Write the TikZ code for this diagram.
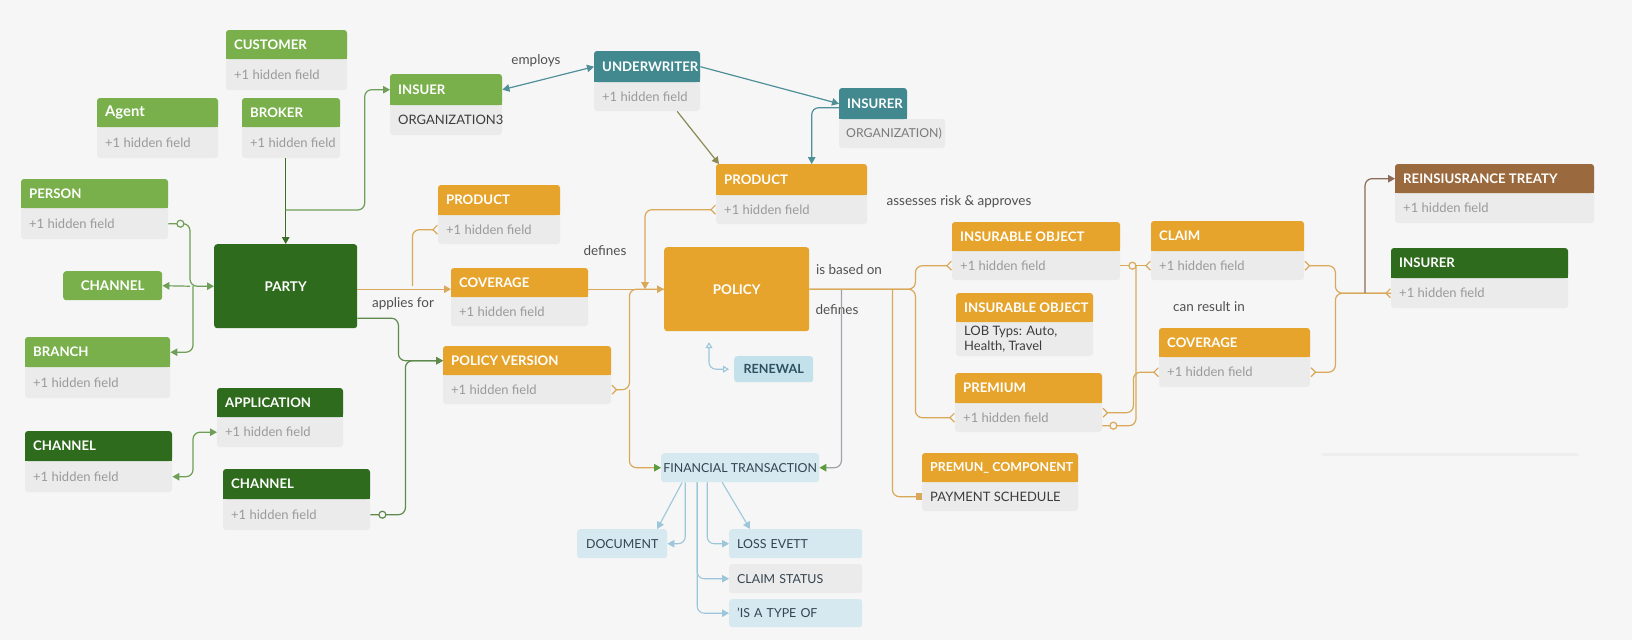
\documentclass[tikz,border=0pt]{standalone}
\usepackage{fontspec}
\setmainfont{Lato}
\usetikzlibrary{arrows.meta}

% palette
\definecolor{bg}{HTML}{F6F6F6}
\definecolor{boxgray}{HTML}{EBEBEB}
\definecolor{divgray}{HTML}{EEEEEE}
\definecolor{lgreen}{HTML}{79B04B}
\definecolor{dgreen}{HTML}{2F6B1D}
\definecolor{orng}{HTML}{E6A42C}
\definecolor{tealhd}{HTML}{41888F}
\definecolor{brownhd}{HTML}{9A6A3E}
\definecolor{lblue}{HTML}{D6E9F1}
\definecolor{renewblue}{HTML}{C2E1EA}
\definecolor{renewtxt}{HTML}{2E5060}
\definecolor{hidtxt}{HTML}{9A9A9A}
\definecolor{darktxt}{HTML}{3C3C3C}
\definecolor{orgtxt}{HTML}{7A7A7A}
\definecolor{bluetxt}{HTML}{34444F}
\definecolor{labeltxt}{HTML}{505050}
\definecolor{lgline}{HTML}{6E9F58}
\definecolor{dgline}{HTML}{3A6E28}
\definecolor{dgline2}{HTML}{5E8A4E}
\definecolor{oline}{HTML}{D9A85A}
\definecolor{tline}{HTML}{4E8F98}
\definecolor{grayline}{HTML}{9EA4AA}
\definecolor{brline}{HTML}{8C6C58}
\definecolor{olline}{HTML}{8A8A55}
\definecolor{lbline}{HTML}{9CC6D9}
\definecolor{arrgreen}{HTML}{5B9B3B}

\tikzset{
  Arw/.tip={Triangle[length=7pt,width=7.5pt]},
  Garw/.tip={Triangle[length=7pt,width=7.5pt,color=arrgreen]},
  Crw/.tip={Straight Barb[reversed,length=4.5pt,width=9pt]},
  Sqr/.tip={Square[length=6pt,width=7pt]},
  Oarw/.tip={Triangle[open,length=6pt,width=7pt]},
  bodyextra/.style={},
}

% entity: name, x, y, width, header height, body height, colour, title, body
\newcommand\erbox[9]{%
  \fill[boxgray, rounded corners=3pt] (#2,#3) rectangle ++(#4,#5+#6);
  \fill[#7, rounded corners=3pt] (#2,#3) rectangle ++(#4,#5);
  \fill[#7] (#2,#3+#5/2) rectangle ++(#4,#5/2);
  \node[anchorbox, minimum width=#4pt, minimum height=#5pt] (#1) at (#2,#3) {};
  \node[anchorbox, minimum width=#4pt, minimum height=#6pt] (#1-b) at (#2,#3+#5) {};
  \node[headtext] (#1-t) at ([xshift=8pt]#1.west) {#8};
  \node[bodytext, bodyextra] (#1-bt) at ([xshift=8pt]#1-b.west) {#9};
}

\begin{document}
\begin{tikzpicture}[x=1pt, y=-1pt,
  anchorbox/.style={anchor=north west, inner sep=0pt, draw=none, rectangle},
  headtext/.style={anchor=west, inner sep=0pt, text=white, font=\bfseries\fontsize{13.2}{15}\selectfont},
  bodytext/.style={anchor=west, inner sep=0pt, text=hidtxt, align=left, font=\fontsize{13}{15}\selectfont},
  plainbox/.style={anchorbox, rounded corners=3pt},
  bigtext/.style={text=white, font=\bfseries\fontsize{13.4}{15}\selectfont},
  bluebox/.style={plainbox, fill=lblue, text=bluetxt, font=\fontsize{12.4}{15}\selectfont},
  leftbox/.style={inner xsep=8pt, text width=117pt, align=left, minimum width=133pt},
  lbl/.style={inner sep=0pt, text=labeltxt, font=\fontsize{13.5}{16}\selectfont},
  conn/.style={line width=1.2pt, rounded corners=7pt},
  lgc/.style={conn, draw=lgline},
  dgc/.style={conn, draw=dgline},
  dgc2/.style={conn, draw=dgline2},
  oc/.style={conn, draw=oline},
  tc/.style={conn, draw=tline},
  gc/.style={conn, draw=grayline},
  bc/.style={conn, draw=brline},
  olc/.style={conn, draw=olline},
  lbc/.style={conn, draw=lbline, line width=1.1pt},
  ring/.style={line width=1.2pt, fill=bg},
]
\fill[bg] (0,0) rectangle (1632,640);
\useasboundingbox (0,0) rectangle (1632,640);

% faint divider at lower right
\draw[line width=3pt, color=divgray] (1322,454) -- (1578,454);

% ---------- party side ----------
\erbox{customer}{226}{30}{121}{29}{31}{lgreen}{CUSTOMER}{+1 hidden field}
\erbox{agent}{97}{98}{121}{29}{31}{lgreen}{\fontsize{14.8}{16}\selectfont Agent}{+1 hidden field}
\erbox{broker}{242}{98}{98}{29}{31}{lgreen}{BROKER}{+1 hidden field}
\erbox{person}{21}{179}{147}{29}{31}{lgreen}{PERSON}{+1 hidden field}
\erbox{branch}{25}{337}{145}{30}{31}{lgreen}{BRANCH}{+1 hidden field}
\erbox{application}{217}{388}{126}{29}{30}{dgreen}{APPLICATION}{+1 hidden field}
\erbox{channelb}{25}{431}{147}{30}{31}{dgreen}{CHANNEL}{+1 hidden field}
\erbox{channelc}{223}{469}{147}{30}{31}{dgreen}{CHANNEL}{+1 hidden field}
\node[plainbox, fill=lgreen, bigtext, minimum width=99pt, minimum height=29pt] (channela) at (63,271) {CHANNEL};
\node[plainbox, fill=dgreen, bigtext, minimum width=143pt, minimum height=84pt] (party) at (214,244) {PARTY};

% ---------- organisations ----------
\begin{scope}[bodyextra/.style={text=darktxt}]
\erbox{insuer}{390}{74}{112}{31}{30}{lgreen}{INSUER}{ORGANIZATION3}
\end{scope}
\erbox{underwriter}{594}{51}{106}{31}{29}{tealhd}{UNDERWRITER}{+1 hidden field}
\fill[boxgray, rounded corners=3pt] (839,119) rectangle (945,148);
\fill[tealhd, rounded corners=3pt] (839,88) rectangle (907,119);
\fill[tealhd] (839,104) rectangle (907,119);
\node[anchorbox, minimum width=68pt, minimum height=31pt] (insurera) at (839,88) {};
\node[anchorbox, minimum width=106pt, minimum height=29pt] (insurera-b) at (839,119) {};
\node[headtext] (insurera-t) at ([xshift=8pt]insurera.west) {INSURER};
\node[bodytext, text=orgtxt, font=\fontsize{12.3}{15}\selectfont] (insurera-bt) at ([xshift=7pt]insurera-b.west) {ORGANIZATION)};

% ---------- products and policy ----------
\erbox{productt}{716}{164}{151}{31}{29}{orng}{PRODUCT}{+1 hidden field}
\erbox{productl}{438}{185}{122}{30}{29}{orng}{PRODUCT}{+1 hidden field}
\erbox{coveragel}{451}{268}{137}{29}{29}{orng}{COVERAGE}{+1 hidden field}
\erbox{policyversion}{443}{346}{168}{29}{29}{orng}{POLICY VERSION}{+1 hidden field}
\node[plainbox, fill=orng, bigtext, minimum width=145pt, minimum height=84pt] (policy) at (664,247) {POLICY};
\node[plainbox, fill=renewblue, minimum width=79pt, minimum height=26pt, text=renewtxt, font=\bfseries\fontsize{12.6}{15}\selectfont] (renewal) at (734,356) {RENEWAL};

% ---------- objects, premium, claims ----------
\erbox{insobja}{952}{222}{168}{29}{29}{orng}{INSURABLE OBJECT}{+1 hidden field}
\begin{scope}[bodyextra/.style={text=darktxt}]
\erbox{insobjb}{956}{293}{137}{29}{34}{orng}{INSURABLE OBJECT}{LOB Typs: Auto,\\Health, Travel}
\erbox{premcomp}{922}{453}{156}{29}{29}{orng}{\fontsize{12.4}{15}\selectfont PREMUN\_ COMPONENT}{PAYMENT SCHEDULE}
\end{scope}
\erbox{premium}{955}{373}{147}{30}{29}{orng}{PREMIUM}{+1 hidden field}
\erbox{claim}{1151}{221}{153}{30}{29}{orng}{CLAIM}{+1 hidden field}
\erbox{coverager}{1159}{328}{151}{29}{30}{orng}{COVERAGE}{+1 hidden field}
\erbox{reins}{1395}{164}{199}{29}{30}{brownhd}{REINSIUSRANCE TREATY}{+1 hidden field}
\erbox{insurerb}{1391}{248}{177}{30}{30}{dgreen}{INSURER}{+1 hidden field}

% ---------- transaction cluster ----------
\node[bluebox, minimum width=158pt, minimum height=29pt] (ft) at (661,453) {FINANCIAL TRANSACTION};
\node[bluebox, minimum width=90pt, minimum height=29pt] (document) at (577,529) {DOCUMENT};
\node[bluebox, leftbox, minimum height=29pt] (lossevett) at (729,529) {LOSS EVETT};
\node[bluebox, leftbox, fill=boxgray, minimum height=29pt] (claimstatus) at (729,564) {CLAIM STATUS};
\node[bluebox, leftbox, minimum height=28pt] (istypeof) at (729,599) {'IS A TYPE OF};

% ---------- labels ----------
\node[lbl] (lemploys) at (536,61) {employs};
\node[lbl] (lapplies) at (403,304) {applies for};
\node[lbl] (ldefines) at (605,251) {defines};
\node[lbl] (lbased) at (849,270) {is based on};
\node[lbl] (ldefinesb) at (837,310) {defines};
\node[lbl] (lassess) at (959,202) {assesses risk \& approves};
\node[lbl] (lresult) at (1209,307) {can result in};

% ---------- connectors around the party ----------
\draw[dgc, -{Arw}] (party.north |- broker-b.south) -- (party.north);
\draw[lgc, -{Arw}] ([yshift=34pt]party.north) -- ++(79,0) |- (insuer.west);
\draw[lgc, -{Arw}] (person-b.east) -| ([xshift=-24pt]party.west) -- (party.west);
\draw[lgc, -{Arw}] ([xshift=-24pt]party.west) -- (channela.east);
\draw[lgc, -{Arw}] ([xshift=-21pt]party.west) |- (branch.east);
\draw[lgc, {Arw}-{Arw}] (application-b.west) -- ++(-24,0) |- (channelb-b.east);
\draw[dgc2, -{Arw}] (channelc-b.east) -- ++(35,0) |- (policyversion.west);
\draw[dgc2, -{Arw}] ([yshift=-32pt]party.east) -- ++(41,0) |- (policyversion.west);
\draw[lgline, ring] ([xshift=12pt]person-b.east) circle[radius=3.5pt];
\draw[dgline2, ring] ([xshift=12pt]channelc-b.east) circle[radius=3.5pt];

% ---------- organisations ----------
\draw[tc, {Arw}-{Arw}] (insuer.east) -- (underwriter.west);
\draw[tc, -{Arw}] (underwriter.east) -- (insurera.west);
\draw[tc, -{Arw}] ([yshift=-4pt]insurera.west) -| ([xshift=20pt]productt.north);
\draw[olc, -{Arw}] ([xshift=30pt]underwriter-b.south) -- ([xshift=3pt]productt.north west);

% ---------- product / coverage / policy ----------
\draw[oc, -{Arw}] (party.east |- policy.west) -- (coveragel.west |- policy.west);
\draw[oc, -{Crw}] ([xshift=55pt]party.east) |- (productl-b.west);
\draw[oc, -{Arw}] (coveragel.east |- policy.west) -- (policy.west);
\draw[oc, {Crw}-{Arw}] (productt-b.west) -| ([xshift=-19pt]policy.west);
\draw[oc, {Crw}-] (policyversion-b.east) -- ++(18,0) |- (policy.west);
\draw[oc, -{Garw}] ([xshift=18pt]policyversion-b.east) |- (ft.west);
\draw[gc, -{Garw}] ([xshift=32pt]policy.east) |- (ft.east);
\draw[lbc, {Oarw}-{Oarw}] ([xshift=-25pt,yshift=27pt]renewal.west) |- ([xshift=-5pt]renewal.west);

% ---------- policy to objects and premium ----------
\draw[oc, -{Crw}] (policy.east) -- ++(106,0) |- (insobja-b.west);
\draw[oc, -{Crw}] (policy.east) -- ++(106,0) |- (premium-b.west);
\draw[oc, -{Sqr}] ([xshift=83pt]policy.east) |- (premcomp-b.west);
\draw[oc, -{Crw}] (insobja-b.east) -- (claim-b.west);
\draw[oc, {Crw}-{Crw}] ([yshift=5pt]premium-b.east) -- ++(31,0) |- (coverager-b.west);
\draw[oc] ([yshift=-8pt]premium-b.east) -| ([xshift=-15pt]claim-b.west);
\draw[oline, ring] ([xshift=12pt]insobja-b.east) circle[radius=3.5pt];
\draw[oline, ring] ([xshift=11pt,yshift=-8pt]premium-b.east) circle[radius=3.5pt];
\draw[oc, {Crw}-{Crw}] (claim-b.east) -- ++(31,0) |- (insurerb-b.west);
\draw[oc, {Crw}-] (coverager-b.east) -- ++(25,0) |- (insurerb-b.west);
\draw[bc, -{Arw}] ([xshift=-26pt]insurerb-b.west) |- (reins.west);

% ---------- transaction fan-out ----------
\draw[lbc, -{Arw}] ([xshift=-58pt]ft.south) -- ([xshift=35pt]document.north);
\draw[lbc, -{Arw}] ([xshift=-55pt]ft.south) |- (document.east);
\draw[lbc, -{Arw}] ([xshift=-43pt]ft.south) |- (claimstatus.west);
\draw[lbc, -{Arw}] ([xshift=-43pt]ft.south) |- (istypeof.west);
\draw[lbc, -{Arw}] ([xshift=-33pt]ft.south) |- (lossevett.west);
\draw[lbc, -{Arw}] ([xshift=-18pt]ft.south) -- ([xshift=21pt]lossevett.north west);
\end{tikzpicture}
\end{document}
